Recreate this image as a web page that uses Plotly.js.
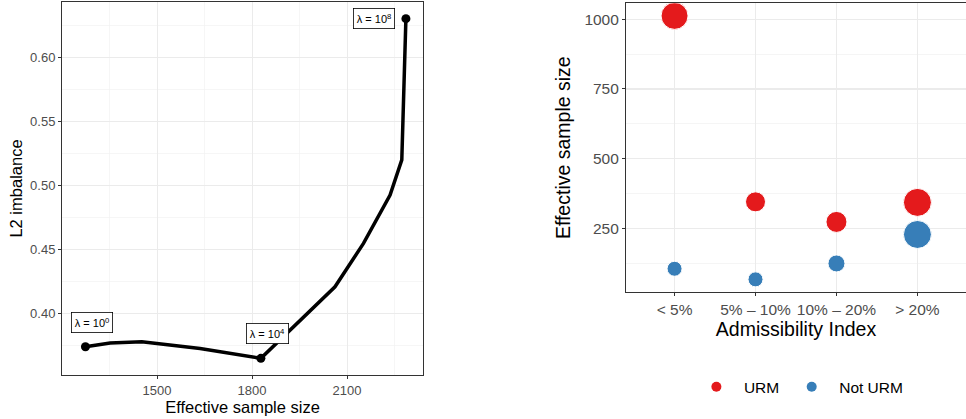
<!DOCTYPE html>
<html>
<head>
<meta charset="utf-8">
<script src="https://cdn.plot.ly/plotly-3.0.1.min.js"></script>
<style>html,body{margin:0;padding:0;background:#fff}#chart{width:966px;height:419px}</style>
</head>
<body>
<div id="chart"></div>
<script>
// Left panel: path of imbalance vs effective sample size
const essPath = [1274, 1352, 1452, 1636, 1828, 2062, 2152, 2236, 2273, 2286];
const l2Path  = [0.374, 0.377, 0.378, 0.3727, 0.365, 0.4208, 0.4547, 0.4924, 0.5198, 0.630];
// Labelled lambda points
const lamEss   = [1274, 1828, 2286];
const lamL2    = [0.374, 0.365, 0.630];
const lamExp   = ['0', '4', '8'];
const lamLabX  = [1294, 1848, 2185];
const lamLabY  = [0.3927, 0.3844, 0.630];

// Right panel
const admCats  = ['< 5%', '5% \u2013 10%', '10% \u2013 20%', '> 20%'];
const urmESS   = [1012, 345, 273, 343];
const notURMESS= [105, 67, 124, 228];
const urmSize  = [27, 20, 21, 28];
const notURMSize = [15, 15, 17, 28];

const FAM = 'Liberation Sans, Arial, sans-serif';
const tickFont = {family: FAM, size: 13, color: '#4d4d4d'};
const tickFontR = {family: FAM, size: 15.5, color: '#4d4d4d'};
const titleFont = {family: FAM, size: 16.5, color: '#000'};
const titleFontR = {family: FAM, size: 19.5, color: '#000'};

const traces = [
  {x: essPath, y: l2Path, mode: 'lines', line: {color: '#000', width: 3.5}, xaxis: 'x', yaxis: 'y', showlegend: false, hoverinfo: 'skip'},
  {x: lamEss, y: lamL2, mode: 'markers', marker: {color: '#000', size: 9}, xaxis: 'x', yaxis: 'y', showlegend: false},
  {x: admCats, y: urmESS, mode: 'markers', marker: {color: '#E41A1C', size: urmSize, opacity: 1}, xaxis: 'x2', yaxis: 'y2', showlegend: false, name: 'URM'},
  {x: admCats, y: notURMESS, mode: 'markers', marker: {color: '#377EB8', size: notURMSize, opacity: 1}, xaxis: 'x2', yaxis: 'y2', showlegend: false, name: 'Not URM'},
  {x: [null], y: [null], mode: 'markers', marker: {color: '#E41A1C', size: 10}, xaxis: 'x2', yaxis: 'y2', name: 'URM', showlegend: true},
  {x: [null], y: [null], mode: 'markers', marker: {color: '#377EB8', size: 10}, xaxis: 'x2', yaxis: 'y2', name: 'Not URM', showlegend: true}
];

const annotations = lamEss.map((v, i) => ({
  x: lamLabX[i], y: lamLabY[i], xref: 'x', yref: 'y',
  text: '\u03bb = 10<sup>' + lamExp[i] + '</sup>',
  showarrow: false, bgcolor: '#fff', bordercolor: '#000', borderwidth: 0.8, borderpad: 3,
  font: {family: FAM, size: 11, color: '#000'}
}));

const layout = {
  width: 966, height: 419,
  margin: {l: 0, r: 0, t: 0, b: 0},
  paper_bgcolor: '#fff', plot_bgcolor: '#fff',
  showlegend: true,
  legend: {orientation: 'h', x: 0.827, xanchor: 'center', y: 0.076, yanchor: 'middle',
           font: {family: FAM, size: 15.5, color: '#000'}, itemwidth: 45},
  xaxis: {domain: [0.0642, 0.4379], range: [1200, 2340], tickvals: [1500, 1800, 2100],
          showgrid: true, gridcolor: '#ebebeb', gridwidth: 1,
          minor: {dtick: 150, tick0: 1200, showgrid: true, gridcolor: '#f2f2f2', gridwidth: 0.7},
          showline: true, mirror: true, linecolor: '#333', linewidth: 1,
          ticks: 'outside', ticklen: 3, tickcolor: '#333', tickfont: tickFont, zeroline: false,
          title: {text: 'Effective sample size', font: titleFont, standoff: 3}},
  yaxis: {domain: [0.105, 0.9952], range: [0.352, 0.643], tickvals: [0.40, 0.45, 0.50, 0.55, 0.60],
          tickformat: '.2f',
          showgrid: true, gridcolor: '#ebebeb', gridwidth: 1,
          minor: {dtick: 0.025, tick0: 0.35, showgrid: true, gridcolor: '#f2f2f2', gridwidth: 0.7},
          showline: true, mirror: true, linecolor: '#333', linewidth: 1,
          ticks: 'outside', ticklen: 3, tickcolor: '#333', tickfont: tickFont, zeroline: false,
          title: {text: 'L2 imbalance', font: titleFont, standoff: 3}},
  xaxis2: {domain: [0.648, 1.0], range: [-0.6, 3.6], type: 'category', anchor: 'y2',
          showgrid: true, gridcolor: '#ebebeb', gridwidth: 1.2,
          showline: true, mirror: true, linecolor: '#333', linewidth: 1,
          ticks: 'outside', ticklen: 3, tickcolor: '#333', tickfont: tickFontR, zeroline: false,
          title: {text: 'Admissibility Index', font: titleFontR, standoff: 4}},
  yaxis2: {domain: [0.303, 0.992], range: [21.5, 1057], anchor: 'x2', tickvals: [250, 500, 750, 1000],
          showgrid: true, gridcolor: '#ebebeb', gridwidth: 1.2,
          minor: {dtick: 125, tick0: 0, showgrid: true, gridcolor: '#f2f2f2', gridwidth: 0.8},
          showline: true, mirror: true, linecolor: '#333', linewidth: 1,
          ticks: 'outside', ticklen: 3, tickcolor: '#333', tickfont: tickFontR, zeroline: false,
          title: {text: 'Effective sample size', font: titleFontR, standoff: 8}},
  annotations: annotations
};

Plotly.newPlot('chart', traces, layout, {staticPlot: true, displayModeBar: false});
</script>
</body>
</html>
